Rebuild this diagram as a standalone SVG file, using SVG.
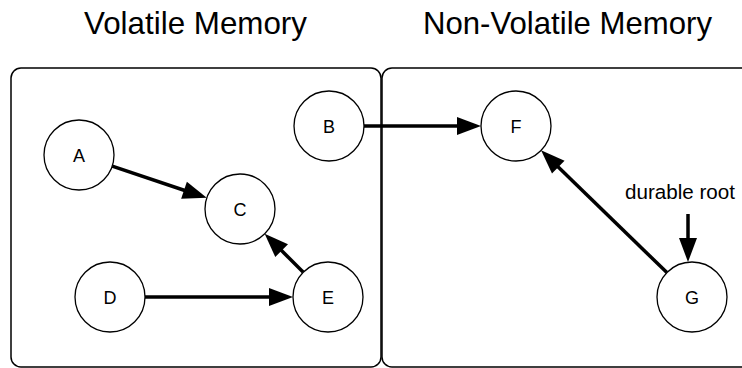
<svg xmlns="http://www.w3.org/2000/svg" width="742" height="368" viewBox="0 0 742 368">
<style>
.box{fill:none;stroke:#000;stroke-width:1.5}
.node circle{fill:#fff;stroke:#000;stroke-width:1.3}
.node text{font-family:"Liberation Sans",Arial,sans-serif;font-size:18px;text-anchor:middle;fill:#000}
.title{font-family:"Liberation Sans",Arial,sans-serif;font-size:30.5px;text-anchor:middle;fill:#000}
.lbl{font-family:"Liberation Sans",Arial,sans-serif;font-size:20.5px;text-anchor:middle;fill:#000}
.edge{stroke:#000;stroke-width:3.5;fill:none;marker-end:url(#ah)}
</style>
<defs>
<marker id="ah" markerUnits="userSpaceOnUse" markerWidth="24" markerHeight="18" refX="4" refY="9" orient="auto" overflow="visible">
<path d="M0,0 L24,9 L0,18 z" fill="#000"/>
</marker>
</defs>
<g id="volatile">
<rect class="box" x="11" y="68" width="370" height="299" rx="10"/>
<text class="title" x="195.5" y="34" textLength="223" lengthAdjust="spacingAndGlyphs">Volatile Memory</text>
</g>
<g id="nonvolatile">
<rect class="box" x="382" y="68" width="370" height="299" rx="10"/>
<text class="title" x="567.5" y="34" textLength="289" lengthAdjust="spacingAndGlyphs">Non-Volatile Memory</text>
</g>
<g id="connectors">
<line class="edge" x1="112.2" y1="166.1" x2="187.8" y2="191.5"/>
<line class="edge" x1="303.3" y1="272.3" x2="278.8" y2="247.8"/>
<line class="edge" x1="145" y1="297" x2="273" y2="297"/>
<line class="edge" x1="364" y1="126" x2="461" y2="126"/>
<line class="edge" x1="666.9" y1="272.6" x2="555.4" y2="164.3"/>
<line class="edge" x1="688" y1="214" x2="688" y2="242"/>
</g>
<g id="nodeA" class="node"><circle cx="79" cy="155" r="35"/><text x="79" y="161.5">A</text></g>
<g id="nodeB" class="node"><circle cx="329" cy="126" r="35"/><text x="329" y="132.5">B</text></g>
<g id="nodeC" class="node"><circle cx="240" cy="209" r="35"/><text x="240" y="215.5">C</text></g>
<g id="nodeD" class="node"><circle cx="110" cy="297" r="35"/><text x="110" y="303.5">D</text></g>
<g id="nodeE" class="node"><circle cx="328" cy="297" r="35"/><text x="328" y="303.5">E</text></g>
<g id="nodeF" class="node"><circle cx="516" cy="126" r="35"/><text x="516" y="132.5">F</text></g>
<g id="nodeG" class="node"><circle cx="692" cy="297" r="35"/><text x="692" y="303.5">G</text></g>
<g id="durable-root"><text class="lbl" x="680" y="199" textLength="110" lengthAdjust="spacingAndGlyphs">durable root</text></g>
</svg>
